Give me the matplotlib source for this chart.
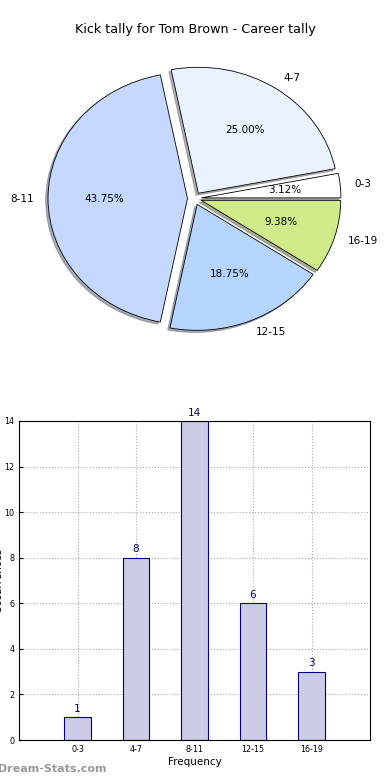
import matplotlib
matplotlib.use("Agg")
import matplotlib.pyplot as plt

# kick tally data
categories = ["0-3", "4-7", "8-11", "12-15", "16-19"]
counts = [1, 8, 14, 6, 3]
pie_colors = ["#ffffff", "#eaf1ff", "#c5d8ff", "#b5d5ff", "#cfeb8a"]
y_ticks = [0, 2, 4, 6, 8, 10, 12, 14]

fig = plt.figure(figsize=(3.9, 7.8), dpi=100)

# Pie (elliptical, old-style, no equal aspect)
ax1 = fig.add_axes([0.0337, 0.5355, 0.930, 0.42])
wedges, texts, autotexts = ax1.pie(
    counts, labels=categories, colors=pie_colors, autopct="%1.2f%%",
    explode=[0.05] * len(counts),
    shadow={"ox": -0.012, "oy": -0.012, "shade": 0.6}, startangle=0,
    wedgeprops={"edgecolor": "black", "linewidth": 0.6},
    textprops={"fontsize": 7.5},
)
ax1.set_aspect("auto")
ax1.set_xlim(-1.3, 1.3)
ax1.set_ylim(-1.3, 1.3)
fig.text(0.5, 1 - 30 / 780, "Kick tally for Tom Brown - Career tally",
         ha="center", va="center", fontsize=9.2)

# Bar chart
ax2 = fig.add_axes([19 / 390, 40 / 780, 351 / 390, 319 / 780])
x = list(range(len(categories)))
ax2.bar(x, counts, width=0.45, color="#ccccE6", edgecolor="#000080",
        linewidth=0.8, zorder=2)
for xi, c in zip(x, counts):
    ax2.text(xi, c + 0.15, str(c), ha="center", va="bottom",
             color="#000080", fontsize=7.5)
ax2.set_xlim(-1, 5)
ax2.set_ylim(0, 14)
ax2.set_xticks(x)
ax2.set_xticklabels(categories, fontsize=5.8)
ax2.set_yticks(y_ticks)
ax2.tick_params(axis="y", labelsize=5.8)
ax2.tick_params(direction="in", length=3)
ax2.grid(True, linestyle=":", color="#aaaaaa", linewidth=0.8, zorder=0)
ax2.set_axisbelow(True)
ax2.set_xlabel("Frequency", fontsize=7.5, labelpad=2)
ax2.set_ylabel("Occurrences", fontsize=7.5)
ax2.yaxis.set_label_coords(-0.045, 0.5)

fig.text(-0.005, 11 / 780, "Dream-Stats.com", color="#999999",
         fontsize=8, fontweight="bold", ha="left", va="center")

fig.savefig("out.png", dpi=100)
